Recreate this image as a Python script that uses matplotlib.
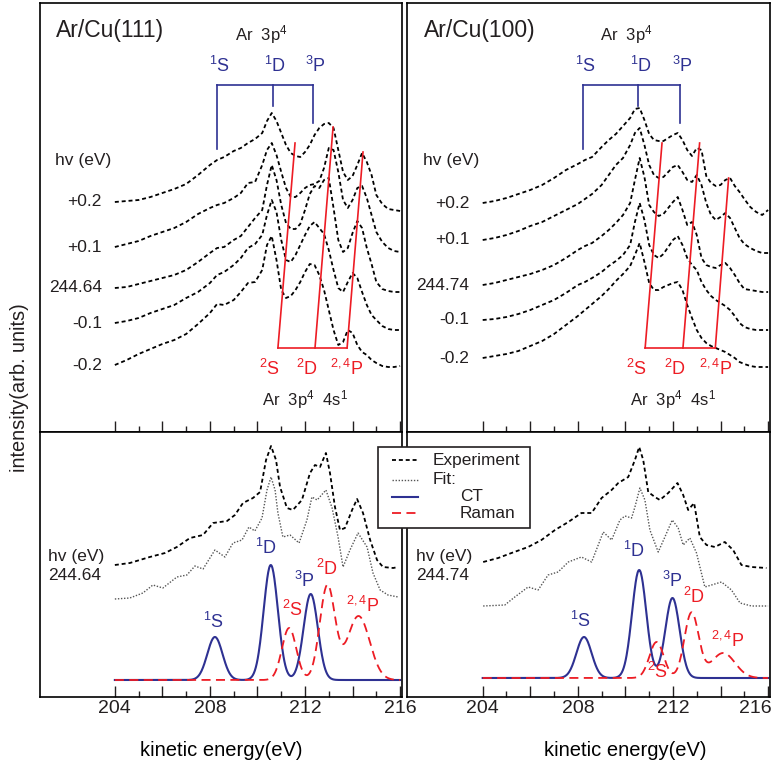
import numpy as np
import matplotlib.pyplot as plt
import matplotlib.transforms as mtransforms
from matplotlib.lines import Line2D
from matplotlib.patches import Rectangle

plt.rcParams.update({
    'font.family': ['Liberation Sans', 'DejaVu Sans'],
    'mathtext.fontset': 'custom',
    'mathtext.rm': 'Liberation Sans',
    'mathtext.it': 'Liberation Sans:italic',
    'mathtext.bf': 'Liberation Sans:bold',
    'text.color': '#231f20',
    'axes.linewidth': 1.2,
})

BLUE = '#2e3192'
RED = '#ed1c24'
EXP_STYLE = dict(color='black', lw=1.3, ls=(0, (2.2, 1.6)))
FIT_STYLE = dict(color='#555555', lw=1.0, ls=(0, (1, 1.2)))

# energy grid (eV) of the stacked spectra in the upper panels
energy = [204, 204.5, 205, 205.5, 206, 206.5, 207, 207.5, 208, 208.3, 208.6,
          209, 209.3, 209.6, 209.9, 210.2, 210.4, 210.6, 210.8, 211, 211.2,
          211.4, 211.6, 211.8, 212, 212.2, 212.4, 212.6, 212.8, 213, 213.2,
          213.4, 213.6, 213.8, 214, 214.2, 214.4, 214.6, 214.8, 215, 215.25,
          215.5, 215.75, 216]

# Ar/Cu(111), hv detuning +0.2 ... -0.2 (stacked, arb. units)
cu111_p02 = [230, 231, 232, 235, 239, 243, 248, 257, 267, 272, 275, 281, 284, 289, 293,
             299, 311, 319, 311, 299, 287, 279, 276, 275, 280, 287, 297, 304, 308, 309,
             304, 282, 260, 252, 256, 267, 279, 270, 257, 237, 228, 223, 222, 221]
cu111_p01 = [185, 188, 191, 196, 200, 204, 210, 218, 224, 227, 229, 234, 239, 249, 250,
             267, 282, 289, 277, 260, 244, 235, 235, 239, 244, 247, 248, 251, 264, 284,
             282, 260, 232, 224, 232, 244, 246, 234, 217, 200, 190, 184, 181, 180]
cu111_0 = [144, 145, 148, 151, 154, 157, 162, 170, 179, 184, 185, 192, 196, 205, 214,
           222, 247, 267, 252, 227, 209, 203, 203, 208, 222, 238, 246, 244, 252, 254,
           224, 192, 180, 184, 199, 211, 204, 184, 168, 150, 143, 141, 140, 140]
cu111_m01 = [109, 111, 114, 119, 123, 127, 134, 140, 149, 157, 160, 167, 174, 184, 188,
             197, 217, 232, 220, 192, 172, 170, 177, 187, 197, 206, 210, 204, 198, 182,
             162, 144, 140, 150, 159, 154, 140, 127, 117, 112, 106, 103, 102, 102]
cu111_m02 = [67, 72, 78, 83, 88, 92, 98, 108, 119, 128, 127, 132, 140, 149, 150,
             162, 187, 196, 172, 142, 134, 136, 142, 150, 160, 168, 167, 157, 142, 122,
             102, 87, 90, 102, 99, 87, 80, 77, 72, 69, 66, 65, 65, 66]

# Ar/Cu(100)
cu100_p02 = [229, 231, 234, 238, 242, 247, 254, 262, 268, 272, 275, 285, 292, 298, 306,
             314, 323, 324, 312, 298, 292, 291, 291, 294, 297, 299, 292, 282, 276, 284,
             282, 256, 249, 246, 247, 252, 254, 246, 240, 233, 225, 220, 217, 222]
cu100_p01 = [192, 194, 197, 201, 206, 210, 216, 222, 228, 233, 238, 247, 257, 267, 274,
             287, 299, 304, 287, 267, 257, 254, 255, 260, 265, 267, 260, 252, 250, 257,
             247, 229, 217, 212, 215, 219, 214, 204, 194, 188, 184, 181, 179, 179]
cu100_0 = [147, 149, 152, 155, 158, 162, 167, 174, 182, 186, 189, 196, 202, 209, 217,
           229, 252, 274, 255, 227, 220, 216, 218, 224, 230, 235, 222, 207, 210, 197,
           174, 167, 165, 164, 167, 169, 164, 157, 149, 143, 142, 141, 140, 140]
cu100_m01 = [112, 113, 115, 118, 122, 127, 132, 139, 147, 150, 154, 160, 166, 171, 177,
             187, 210, 229, 212, 187, 177, 174, 178, 185, 192, 196, 187, 174, 167, 162,
             150, 142, 136, 132, 129, 126, 122, 116, 109, 105, 103, 102, 102, 102]
cu100_m02 = [74, 76, 78, 81, 86, 91, 98, 107, 116, 122, 128, 136, 143, 151, 158,
             166, 177, 189, 170, 149, 142, 142, 145, 147, 149, 150, 142, 127, 114, 102,
             94, 89, 86, 84, 82, 80, 77, 74, 70, 68, 66, 65, 65, 65]

hv_111 = ['+0.2', '+0.1', '244.64', '-0.1', '-0.2']
hv_100 = ['+0.2', '+0.1', '244.74', '-0.1', '-0.2']

# CT term energies (bracket) and Raman guide lines: top (E, I) -> bottom E
ct_marks_111 = [208.3, 210.65, 212.35]
ct_marks_100 = [208.2, 210.55, 212.28]
raman_top_111 = [(211.58, 289), (213.18, 305), (214.44, 280)]
raman_low_111 = [210.86, 212.42, 213.77]
raman_top_100 = [(211.54, 289), (213.12, 289), (214.34, 254)]
raman_low_100 = [210.83, 212.42, 213.78]

# lower panels: experiment and total fit at resonance
exp111_e = [204.0, 204.63, 205.47, 206.11, 206.61, 207.16, 207.71, 208.13, 208.72, 209.05,
            209.39, 209.81, 210.11, 210.36, 210.57, 210.78, 210.95, 211.24, 211.49, 211.87,
            212.21, 212.42, 212.63, 212.88, 213.05, 213.26, 213.47, 213.68, 213.98, 214.19,
            214.44, 214.74, 215.03, 215.28, 215.71, 215.92]
exp111_i = [132, 134, 140, 144, 150, 159, 162, 174, 176, 182,
            194, 199, 205, 237, 251, 237, 210, 189, 187, 197,
            224, 232, 230, 244, 224, 190, 167, 169, 187, 198,
            184, 157, 137, 130, 129, 130]
fit111_e = [204.0, 204.63, 205.18, 205.6, 206.02, 206.61, 207.03, 207.37, 207.71, 208.21,
            208.63, 208.97, 209.35, 209.64, 209.89, 210.19, 210.4, 210.57, 210.74, 210.86,
            211.07, 211.37, 211.75, 212.08, 212.29, 212.51, 212.88, 213.14, 213.39, 213.6,
            213.89, 214.23, 214.61, 214.86, 215.16, 215.49, 215.92]
fit111_i = [98, 99, 104, 112, 109, 120, 122, 131, 128, 147,
            140, 154, 157, 170, 166, 179, 207, 220, 207, 184,
            160, 162, 154, 177, 200, 197, 207, 189, 160, 130,
            147, 164, 150, 124, 107, 102, 100]
exp100_e = [204.02, 204.65, 205.21, 205.91, 206.47, 207.04, 207.6, 208.15, 208.58, 209.0,
            209.42, 209.7, 210.12, 210.4, 210.58, 210.75, 210.96, 211.24, 211.45, 211.8,
            212.19, 212.43, 212.64, 212.89, 213.13, 213.41, 213.76, 214.18, 214.53, 214.88,
            215.3, 215.93]
exp100_i = [135, 139, 144, 150, 157, 167, 175, 184, 184, 199,
            207, 214, 220, 237, 250, 237, 205, 200, 197, 204,
            214, 202, 187, 194, 160, 152, 150, 155, 147, 132,
            130, 129]
fit100_e = [204.02, 204.93, 205.35, 205.91, 206.33, 206.75, 207.17, 207.6, 208.15, 208.58,
            209.07, 209.42, 209.77, 209.98, 210.26, 210.4, 210.61, 210.82, 211.03, 211.38,
            211.66, 211.97, 212.22, 212.43, 212.71, 212.99, 213.34, 213.62, 214.04, 214.46,
            214.82, 215.3, 216.0]
fit100_i = [91, 92, 100, 110, 107, 122, 125, 135, 140, 135,
            165, 157, 177, 181, 179, 190, 209, 197, 167, 145,
            160, 177, 169, 152, 159, 144, 110, 112, 115, 107,
            94, 91, 91]

# fitted components: centre (eV), height, sigma (eV)
ct111 = [(208.21, 43, 0.32), (210.56, 115, 0.30), (212.24, 86, 0.30)]
raman111 = [(211.33, 52, 0.30), (212.94, 94, 0.32), (214.25, 64, 0.47)]
ct100 = [(208.26, 41, 0.32), (210.58, 108, 0.30), (211.98, 80, 0.30)]
raman100 = [(211.31, 36, 0.30), (212.78, 65, 0.30), (214.11, 25, 0.50)]
base111, base100 = 17, 19

W, H = 776, 764
fig = plt.figure(figsize=(W / 100, H / 100), dpi=100)


def rect(x0, y0, x1, y1):
    return [x0 / W, 1 - y1 / H, (x1 - x0) / W, (y1 - y0) / H]


ax_tl = fig.add_axes(rect(39.5, 3, 402, 432))
ax_tr = fig.add_axes(rect(407.3, 3, 770, 432))
ax_bl = fig.add_axes(rect(39.5, 432, 402, 697))
ax_br = fig.add_axes(rect(407.3, 432, 770, 697))


def frame(ax, ymax, labels):
    ax.set_xlim(200.83, 216.08)
    ax.set_ylim(0, ymax)
    ax.set_yticks([])
    ax.set_xticks(range(204, 217, 2))
    ax.set_xticks(range(205, 216, 2), minor=True)
    ax.tick_params(axis='x', which='both', direction='in', width=1, pad=2,
                   labelsize=14, colors='#231f20')
    ax.tick_params(axis='x', which='major', length=8)
    ax.tick_params(axis='x', which='minor', length=4.5)
    if labels:
        ax.set_xticklabels(['204', '', '208', '', '212', '', '216'])
    else:
        ax.set_xticklabels([])


def top_panel(ax, curves, hv, title, marks, rtop, rlow):
    frame(ax, 429, False)
    for c, lab in zip(curves, hv):
        ax.plot(energy, c, **EXP_STYLE)
        ax.text(203.45, c[0], lab, ha='right', va='center', fontsize=12.5)
    ax.text(0.042, 0.632, 'hv (eV)', transform=ax.transAxes, fontsize=12.5, va='center')
    ax.text(0.045, 0.935, title, transform=ax.transAxes, fontsize=16.5, va='center')
    # Ar 3p^4 bracket
    ax.plot([marks[0], marks[2]], [347, 347], color=BLUE, lw=1.2)
    for e, low in zip(marks, [283, 326, 309]):
        ax.plot([e, e], [347, low], color=BLUE, lw=1.2)
    for e, lab in zip(marks, ['$^{1}$S', '$^{1}$D', '$^{3}$P']):
        ax.text(e + 0.1, 366, lab, color=BLUE, fontsize=13, ha='center', va='center')
    ax.text(marks[1] - 0.5, 397, 'Ar  3p$^{4}$', fontsize=12, ha='center', va='center')
    # Raman guides
    for (e0, i0), e1 in zip(rtop, rlow):
        ax.plot([e0, e1], [i0, 84], color=RED, lw=1.2)
    ax.plot([rlow[0], rlow[2]], [84, 84], color=RED, lw=1.2)
    for e, lab in zip([rlow[0] - 0.35, rlow[1] - 0.35, rlow[2]],
                      ['$^{2}$S', '$^{2}$D', '$^{2,4}$P']):
        ax.text(e, 63, lab, color=RED, fontsize=13, ha='center', va='center')
    ax.text(rlow[1] - 0.4, 32, 'Ar  3p$^{4}$  4s$^{1}$', fontsize=12,
            ha='center', va='center')


def gauss_sum(e, peaks, base):
    return base + sum(h * np.exp(-(e - c) ** 2 / (2 * s ** 2)) for c, h, s in peaks)


def bottom_panel(ax, ee, ei, fe, fi, ct, raman, base, hv, ct_lab, ra_lab, xlab_x):
    frame(ax, 265, True)
    ax.plot(ee, ei, **EXP_STYLE)
    ax.plot(fe, fi, **FIT_STYLE)
    e = np.linspace(204, 216, 600)
    ax.plot(e, gauss_sum(e, ct, base), color=BLUE, lw=1.5)
    ax.plot(e, gauss_sum(e, raman, base), color=RED, lw=1.3, ls=(0, (5, 3)))
    ax.text(201.2, 131, 'hv (eV)\n' + hv, fontsize=12.5, va='center',
            linespacing=1.25)
    for (c, h, s), (dx, dy), lab in zip(ct, ct_lab, ['$^{1}$S', '$^{1}$D', '$^{3}$P']):
        ax.text(c + dx, base + h + dy, lab, color=BLUE, fontsize=13,
                ha='center', va='center')
    for (c, h, s), (dx, dy), lab in zip(raman, ra_lab, ['$^{2}$S', '$^{2}$D', '$^{2,4}$P']):
        ax.text(c + dx, base + h + dy, lab, color=RED, fontsize=13,
                ha='center', va='center')
    ax.set_xlabel('kinetic energy(eV)', fontsize=14.5)
    ax.xaxis.set_label_coords(xlab_x, -0.165)
    ax.xaxis.label.set_va('top')


top_panel(ax_tl, [cu111_p02, cu111_p01, cu111_0, cu111_m01, cu111_m02], hv_111,
          'Ar/Cu(111)', ct_marks_111, raman_top_111, raman_low_111)
top_panel(ax_tr, [cu100_p02, cu100_p01, cu100_0, cu100_m01, cu100_m02], hv_100,
          'Ar/Cu(100)', ct_marks_100, raman_top_100, raman_low_100)

bottom_panel(ax_bl, exp111_e, exp111_i, fit111_e, fit111_i, ct111, raman111, base111,
             '244.64', [(-0.08, 15), (-0.2, 17), (-0.28, 13)],
             [(0.12, 18), (0.0, 17), (0.19, 10)], 0.5)
bottom_panel(ax_br, exp100_e, exp100_i, fit100_e, fit100_i, ct100, raman100, base100,
             '244.74', [(-0.16, 16), (-0.21, 19), (-0.01, 17)],
             [(0.03, -30), (0.11, 16), (0.21, 12)], 0.60)

# keep the last tick label of the right panel inside the figure
edge_lbl = ax_br.get_xticklabels()[-1]
edge_lbl.set_ha('right')
edge_lbl.set_transform(edge_lbl.get_transform() +
                       mtransforms.ScaledTranslation(4 / 100, 0, fig.dpi_scale_trans))

fig.text(20 / W, 1 - 388 / H, 'intensity(arb. units)', rotation=90,
         ha='center', va='center', fontsize=14.4)

# legend box spanning the two lower panels
fx = lambda x: x / W
fy = lambda y: 1 - y / H
fig.add_artist(Rectangle((fx(378), fy(528)), (530 - 378) / W, (528 - 447) / H,
                         transform=fig.transFigure, facecolor='white',
                         edgecolor='#231f20', lw=1.2, zorder=5))
legend_rows = [(460, EXP_STYLE, 'Experiment', 433),
               (480, FIT_STYLE, 'Fit:', 433),
               (497, dict(color=BLUE, lw=1.5, ls='-'), 'CT', 460),
               (513, dict(color=RED, lw=1.3, ls=(0, (5, 3))), 'Raman', 460)]
for y, style, lab, tx in legend_rows:
    fig.add_artist(Line2D([fx(392), fx(418)], [fy(y), fy(y)],
                          transform=fig.transFigure, zorder=6, **style))
    fig.text(fx(tx), fy(y), lab, fontsize=12.4, va='center', zorder=7)

fig.savefig('out.png', dpi=100)
